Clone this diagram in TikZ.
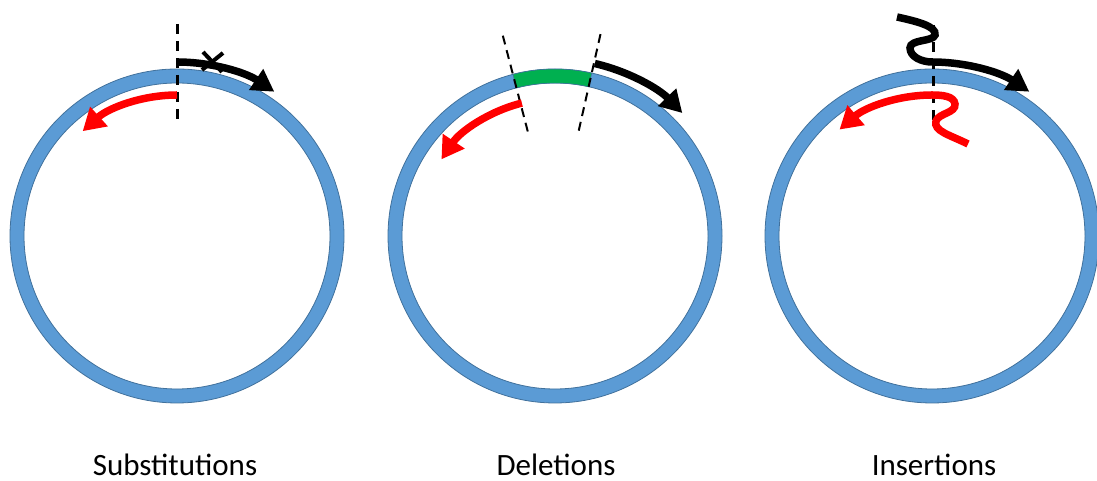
\documentclass[tikz,border=0pt]{standalone}
\usepackage{fontspec}
\setmainfont{Carlito}
\usetikzlibrary{arrows.meta}
\definecolor{ringblue}{HTML}{5B9BD5}
\definecolor{ringedge}{HTML}{41719C}
\definecolor{delgreen}{HTML}{00B050}
\definecolor{mutred}{HTML}{FF0000}
\begin{document}
\begin{tikzpicture}[x=1pt,y=1pt,
  ring/.style={fill=ringblue,draw=ringedge,line width=0.8pt,even odd rule},
  blackarrow/.style={draw=black,line width=7.5pt,-{Triangle[length=22pt,width=24pt]}},
  redarrow/.style={draw=mutred,line width=7.5pt,-{Triangle[length=22pt,width=25pt]}},
  cutline/.style={draw=black,line width=3pt,dash pattern=on 10pt off 7pt},
  thincut/.style={draw=black,line width=2pt,dash pattern=on 9pt off 6pt},
  label/.style={font=\fontsize{31}{36}\selectfont,anchor=base,inner sep=0pt}]
\useasboundingbox (0,0) rectangle (1097,481);
\coordinate (c1) at (177,245);
\coordinate (c2) at (555,245);
\coordinate (c3) at (932,245);
% rings
\path[ring] (c1) circle[radius=167] circle[radius=153];
\path[ring] (c2) circle[radius=167] circle[radius=153];
\path[ring] (c3) circle[radius=167] circle[radius=153];
% ---- substitutions ----
\path[cutline] (177,457) -- (177,357);
\draw[blackarrow] ([shift={(90:174)}]c1) arc[start angle=90,end angle=56,radius=174];
\draw[redarrow] ([shift={(90:141)}]c1) arc[start angle=90,end angle=132,radius=141];
\draw[black,line width=4pt] (203,429) -- (222,409);
\draw[black,line width=4pt] (223,428) -- (202,411);
% ---- deletions ----
\path[fill=delgreen,draw=ringedge,line width=0.5pt]
  ([shift={(77.3:153)}]c2) arc[start angle=77.3,end angle=104.6,radius=153]
  -- ([shift={(104.6:167)}]c2) arc[start angle=104.6,end angle=77.3,radius=167] -- cycle;
\path[thincut] ([shift={(104.6:207)}]c2) -- ([shift={(104.6:108)}]c2);
\path[thincut] ([shift={(77.3:207)}]c2) -- ([shift={(77.3:108)}]c2);
\draw[blackarrow] ([shift={(77:177)}]c2) arc[start angle=77,end angle=44,radius=177];
\draw[redarrow] ([shift={(104:137)}]c2) arc[start angle=104,end angle=146,radius=137];
% ---- insertions ----
\path[cutline] (933,456) -- (933,358);
\draw[blackarrow] (897,464) .. controls (915,460) and (937,455) .. (935,446)
  .. controls (933,439) and (910,442) .. (910,433)
  .. controls (910,424) and (922,419) .. (932,419)
  arc[start angle=90,end angle=56,radius=174];
\draw[redarrow] (968,337) .. controls (950,346) and (933,350) .. (936,360)
  .. controls (939,368) and (956,368) .. (955,377)
  .. controls (954,385) and (942,386) .. (932,386)
  arc[start angle=90,end angle=131,radius=141];
% labels
\node[label] (l1) at (175,5) {Substitutions};
\node[label] (l2) at (556,5) {Deletions};
\node[label] (l3) at (934,5) {Insertions};
\end{tikzpicture}
\end{document}
